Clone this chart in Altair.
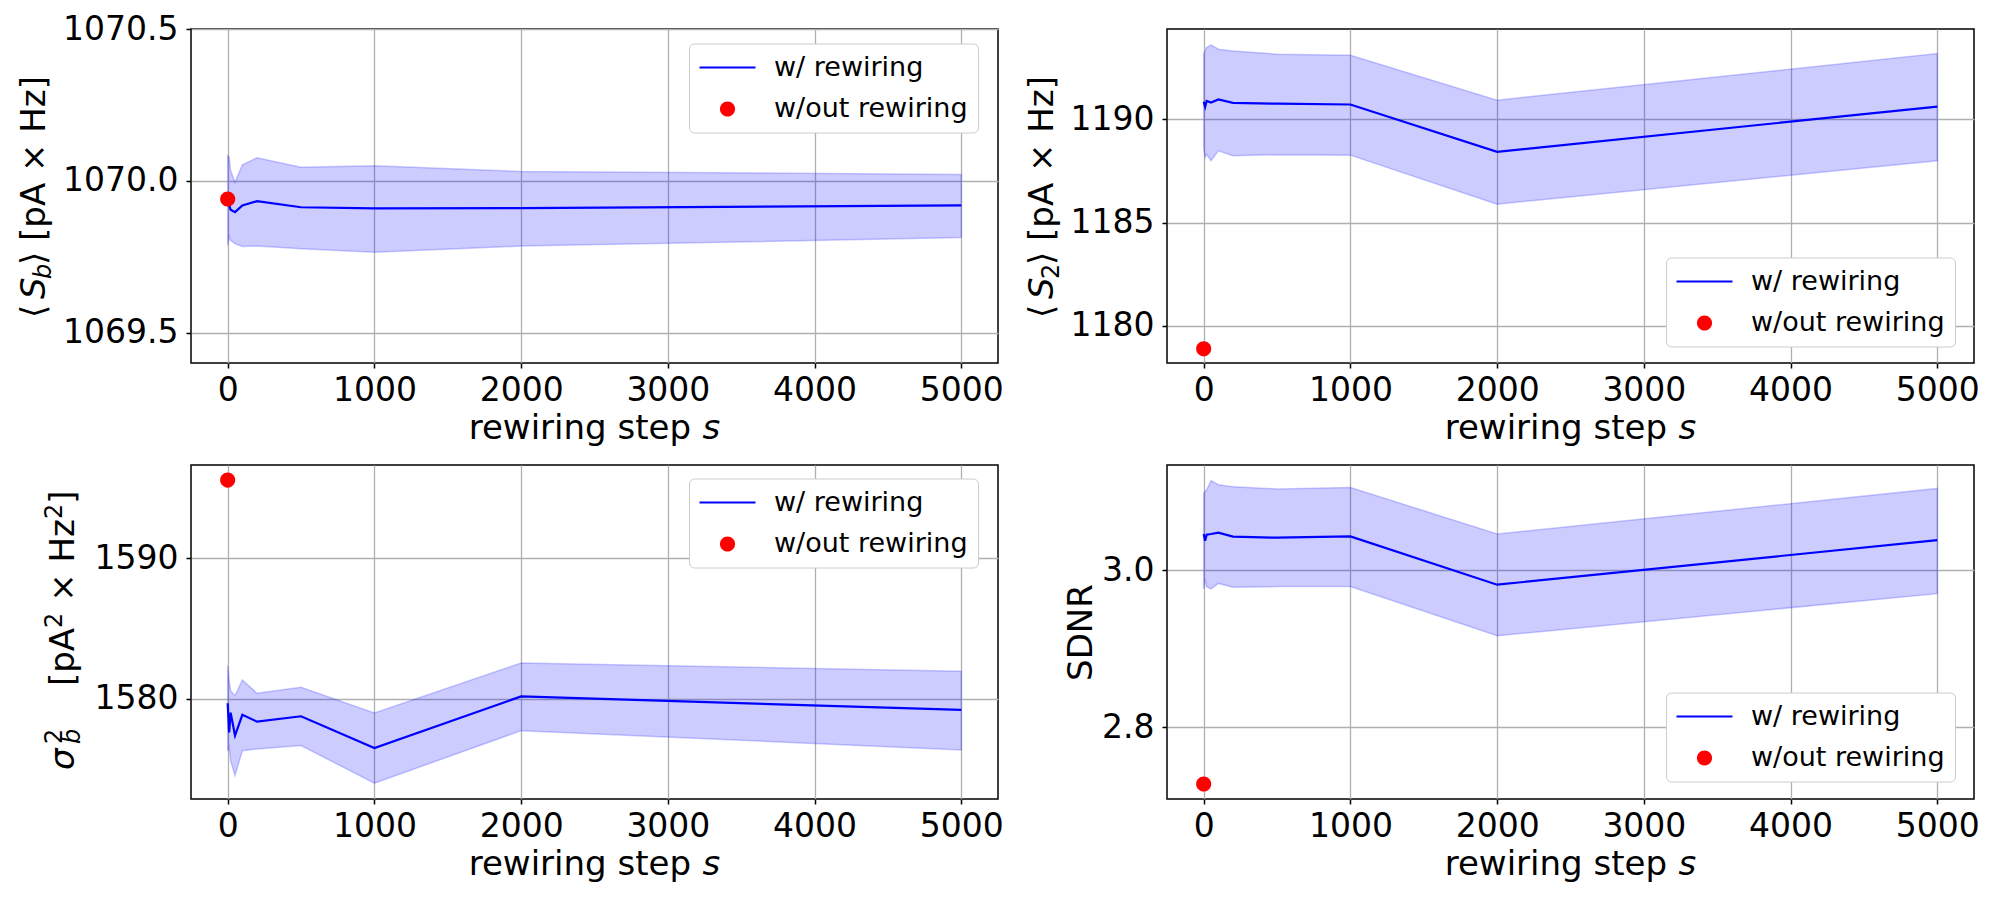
import altair as alt
import pandas as pd

steps = [0, 10, 20, 50, 100, 200, 500, 1000, 2000, 5000]
x_ticks = [0, 1000, 2000, 3000, 4000, 5000]
series_names = ["w/ rewiring", "w/out rewiring"]

sb_mean  = [1069.930, 1069.919, 1069.905, 1069.897, 1069.919, 1069.933, 1069.913, 1069.909, 1069.910, 1069.919]
sb_upper = [1070.083, 1070.078, 1070.034, 1069.995, 1070.053, 1070.076, 1070.045, 1070.050, 1070.031, 1070.021]
sb_lower = [1069.787, 1069.817, 1069.804, 1069.793, 1069.784, 1069.785, 1069.776, 1069.765, 1069.785, 1069.813]
sb_static = 1069.94

s2_mean  = [1190.84, 1190.60, 1190.88, 1190.80, 1190.95, 1190.79, 1190.75, 1190.71, 1188.42, 1190.61]
s2_upper = [1193.14, 1193.30, 1193.46, 1193.59, 1193.38, 1193.30, 1193.14, 1193.09, 1190.92, 1193.17]
s2_lower = [1188.63, 1188.14, 1188.30, 1187.99, 1188.47, 1188.23, 1188.28, 1188.26, 1185.89, 1187.99]
s2_static = 1178.9

var_mean  = [1579.69, 1577.63, 1579.03, 1577.40, 1578.87, 1578.39, 1578.77, 1576.52, 1580.18, 1579.22]
var_upper = [1582.36, 1581.30, 1580.59, 1580.23, 1581.35, 1580.40, 1580.83, 1579.00, 1582.55, 1581.96]
var_lower = [1576.33, 1576.57, 1575.60, 1574.56, 1576.33, 1576.45, 1576.69, 1574.02, 1577.75, 1576.38]
var_static = 1595.53

sdnr_mean  = [3.0458, 3.0373, 3.0450, 3.0458, 3.0475, 3.0424, 3.0411, 3.0428, 2.9814, 3.0380]
sdnr_upper = [3.0975, 3.1000, 3.1017, 3.1136, 3.1085, 3.1060, 3.1030, 3.1050, 3.0458, 3.1037]
sdnr_lower = [2.9760, 2.9886, 2.9788, 2.9760, 2.9830, 2.9780, 2.9790, 2.9790, 2.9165, 2.9700]
sdnr_static = 2.728

W, H = 807, 334
FONT = "DejaVu Sans"
LINE_PATH = "M-2,-0.08L2,-0.08L2,0.08L-2,0.08Z"
DOT_PATH = "M0.54,0A0.54,0.54,0,1,1,-0.54,0A0.54,0.54,0,1,1,0.54,0Z"


def text_piece(text, x, y, size, style="normal", angle=270):
    return alt.Chart(pd.DataFrame({"k": [0]})).mark_text(
        text=text, angle=angle, align="left", baseline="alphabetic",
        font=FONT, fontSize=size, fontStyle=style, color="black"
    ).encode(x=alt.value(x), y=alt.value(y))


def x_title():
    start = W / 2 - 125.8
    return [
        text_piece("rewiring step", start, H + 76, 34, "normal", 0),
        text_piece("s", start + 233.9, H + 76, 34, "italic", 0),
    ]


def panel(mean, upper, lower, static, ydom, yticks, yfmt, ytitle, tpad, legxy, pieces):
    df = pd.DataFrame({"step": steps, "mean": mean, "lo": lower, "hi": upper})
    xsc = alt.Scale(domain=[-250, 5250], nice=False, zero=False)
    ysc = alt.Scale(domain=ydom, nice=False, zero=False)
    xax = alt.Axis(values=x_ticks, format="d", title=None)
    if ytitle:
        yax = alt.Axis(values=yticks, format=yfmt, title=ytitle, titlePadding=tpad)
    else:
        yax = alt.Axis(values=yticks, format=yfmt, title=None)
    band = alt.Chart(df).mark_area(
        fill="#0000ff", fillOpacity=0.2, stroke="#0000ff", strokeOpacity=0.2, strokeWidth=1.5
    ).encode(
        x=alt.X("step:Q", scale=xsc, axis=xax),
        y=alt.Y("lo:Q", scale=ysc, axis=yax),
        y2="hi:Q",
    )
    line = alt.Chart(df).mark_line(color="#0000ff", strokeWidth=2.2).encode(
        x=alt.X("step:Q", scale=xsc),
        y=alt.Y("mean:Q", scale=ysc),
    )
    leg = alt.Legend(
        title=None, orient="none", legendX=legxy[0], legendY=legxy[1], titlePadding=0,
        labelFont=FONT, labelFontSize=27, labelColor="black", labelLimit=400,
        padding=10, rowPadding=14.5, symbolSize=784, symbolOffset=14.5,
        labelOffset=32.5, fillColor="white", strokeColor="#cccccc",
        cornerRadius=5, symbolStrokeWidth=0, symbolOpacity=1,
    )
    pdf = pd.DataFrame({"step": [0], "value": [static], "series": ["w/out rewiring"]})
    pts = alt.Chart(pdf).mark_point(filled=True, size=784, opacity=1).encode(
        x=alt.X("step:Q", scale=xsc),
        y=alt.Y("value:Q", scale=ysc),
        color=alt.Color("series:N", scale=alt.Scale(domain=series_names, range=["#0000ff", "#ff0000"]), legend=leg),
        shape=alt.Shape("series:N", scale=alt.Scale(domain=series_names, range=[LINE_PATH, DOT_PATH]), legend=leg),
    )
    texts = [text_piece(*p) for p in pieces] + x_title()
    return alt.layer(band, line, pts, *texts).properties(width=W, height=H)


p1 = panel(sb_mean, sb_upper, sb_lower, sb_static, [1069.40, 1070.5], [1069.5, 1070.0, 1070.5], ".1f",
           None, 0, (498, 14.5),
           [("⟨", -146.5, 289, 34), ("S", -146.5, 270, 34, "italic"), ("b", -140.5, 250, 24, "italic"),
            ("⟩ [pA × Hz]", -146.5, 236, 34)])
p2 = panel(s2_mean, s2_upper, s2_lower, s2_static, [1178.21, 1194.36], [1180, 1185, 1190], "d",
           None, 0, (499, 228.5),
           [("⟨", -114.3, 289, 34), ("S", -114.3, 270, 34, "italic"), ("2", -108.3, 250, 24),
            ("⟩ [pA × Hz]", -114.3, 236, 34)])
p3 = panel(var_mean, var_upper, var_lower, var_static, [1572.9, 1596.6], [1580, 1590], "d",
           None, 0, (498, 13.5),
           [("σ", -116.7, 305, 34, "italic"), ("2", -128.7, 279, 24), ("b", -110.7, 279, 24, "italic"),
            ("[pA", -116.7, 221, 34), ("2", -128.7, 162.9, 24), ("×", -116.7, 136.8, 34),
            ("Hz", -116.7, 97.5, 34), ("2", -128.7, 54.1, 24), ("]", -116.7, 38.8, 34)])
p4 = panel(sdnr_mean, sdnr_upper, sdnr_lower, sdnr_static, [2.709, 3.1335], [2.8, 3.0], ".1f",
           "SDNR", 3, (499, 227.5), [])

chart = alt.concat(
    p1, p2, p3, p4, columns=2, spacing={"row": 102, "column": 169}, bounds="flush"
).resolve_scale(
    color="independent", shape="independent"
).resolve_legend(
    color="independent", shape="independent"
).properties(
    padding={"left": 8, "top": 4, "right": 5, "bottom": 5}
).configure_view(
    stroke="black", strokeWidth=1.5
).configure_axis(
    domain=False, labelFont=FONT, labelFontSize=33, labelColor="black",
    tickColor="black", tickSize=5, tickWidth=1.5,
    grid=True, gridColor="#b0b0b0", gridWidth=1.3,
    titleFont=FONT, titleFontSize=34, titleColor="black", titleFontWeight="normal",
).configure_axisX(
    labelPadding=6, titlePadding=4
).configure_axisY(
    labelPadding=8
)

chart.save("out.html", embed_options={"renderer": "svg", "actions": False})
